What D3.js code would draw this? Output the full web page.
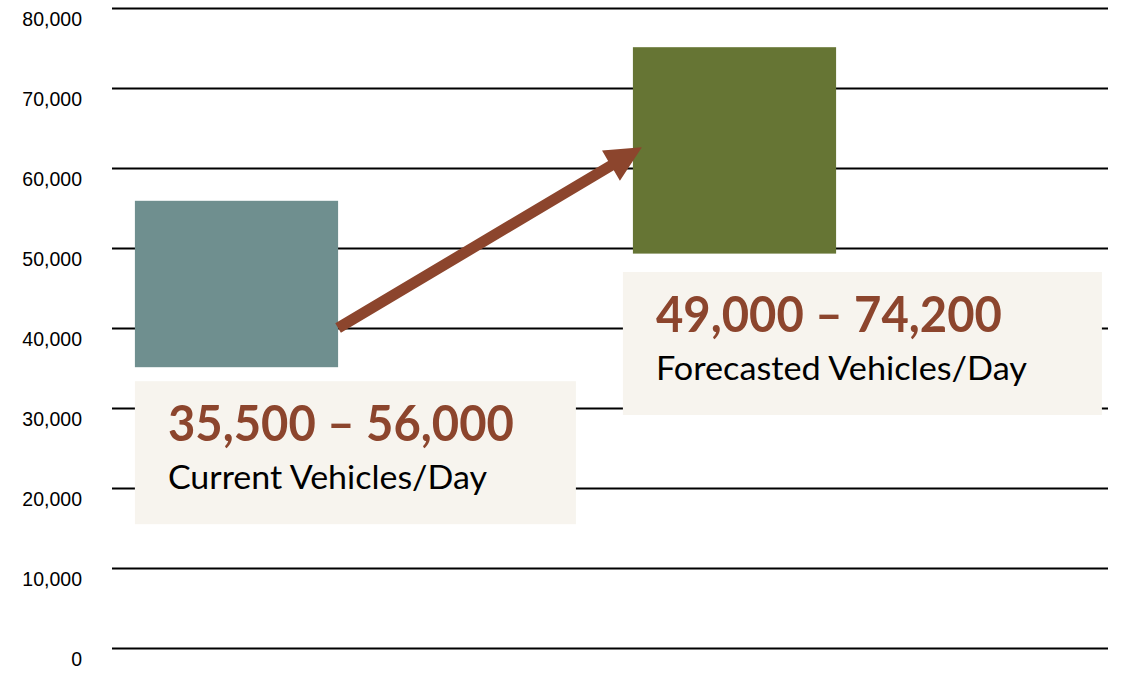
<!DOCTYPE html>
<html>
<head>
<meta charset="utf-8">
<script src="https://cdn.jsdelivr.net/npm/d3@7"></script>
<style>
  body { margin: 0; background: #fff; }
</style>
</head>
<body>
<script>
var categories = ["Current", "Forecasted"],
    lowValues = [35100, 49300],
    highValues = [55900, 75100],
    rangeLabels = ["35,500 \u2013 56,000", "49,000 \u2013 74,200"],
    subLabels = ["Current Vehicles/Day", "Forecasted Vehicles/Day"],
    yTicks = [0, 10000, 20000, 30000, 40000, 50000, 60000, 70000, 80000];

// arrow runs from the right edge of the first bar to just inside the second
var arrowFrom = 40000,
    arrowTo = 62600;

var width = 1123,
    height = 674,
    margin = {top: 8, right: 15, bottom: 26, left: 112};

var barColors = ["#6f8f8f", "#667534"],
    rust = "#8c452d",
    boxFill = "#f7f4ee";

var svg = d3.select("body").append("svg")
    .attr("width", width)
    .attr("height", height);

var x = d3.scaleBand()
    .domain(categories)
    .range([margin.left, width - margin.right])
    .padding(0);

var y = d3.scaleLinear()
    .domain([0, 80000])
    .range([height - margin.bottom, margin.top]);

var step = x.step(),
    barOffset = step * 0.046,
    barWidth = step * 0.408;

// gridlines + tick labels
var axis = svg.append("g")
    .attr("transform", "translate(" + margin.left + ",0)")
    .call(d3.axisLeft(y)
        .tickValues(yTicks)
        .tickSize(-(width - margin.left - margin.right))
        .tickFormat(d3.format(",")));

axis.select(".domain").remove();
axis.selectAll(".tick line")
    .attr("stroke", "#000")
    .attr("stroke-width", 2);
axis.selectAll(".tick text")
    .attr("x", -30)
    .attr("y", 17)
    .attr("dy", 0)
    .attr("fill", "#000")
    .style("font-family", "'Liberation Sans', Arial, sans-serif")
    .style("font-size", "19.5px");

// floating range bars
svg.selectAll("rect.bar")
    .data(categories)
    .enter().append("rect")
    .attr("class", "bar")
    .attr("x", function(d) { return x(d) + barOffset; })
    .attr("width", barWidth)
    .attr("y", function(d, i) { return y(highValues[i]); })
    .attr("height", function(d, i) { return y(lowValues[i]) - y(highValues[i]); })
    .attr("fill", function(d, i) { return barColors[i]; });

// label boxes
var boxes = [
    {x: x(categories[0]) + barOffset, y: y(lowValues[0]) + 14, w: 441, h: 143},
    {x: x(categories[1]) + barOffset - 10, y: 272, w: 479, h: 143}
];

var label = svg.selectAll("g.label")
    .data(boxes)
    .enter().append("g")
    .attr("class", "label")
    .attr("transform", function(d) { return "translate(" + d.x + "," + d.y + ")"; });

label.append("rect")
    .attr("width", function(d) { return d.w; })
    .attr("height", function(d) { return d.h; })
    .attr("fill", boxFill);

label.append("text")
    .attr("x", 33)
    .attr("y", 60)
    .attr("fill", rust)
    .attr("textLength", 346)
    .attr("lengthAdjust", "spacingAndGlyphs")
    .style("font-family", "Lato, 'Open Sans', sans-serif")
    .style("font-weight", "bold")
    .style("font-size", "49px")
    .text(function(d, i) { return rangeLabels[i]; });

label.append("text")
    .attr("x", 33)
    .attr("y", 108)
    .attr("fill", "#000")
    .attr("textLength", function(d, i) { return i ? 371 : 319; })
    .attr("lengthAdjust", "spacingAndGlyphs")
    .style("font-family", "Lato, 'Open Sans', sans-serif")
    .style("font-size", "32px")
    .text(function(d, i) { return subLabels[i]; });

// growth arrow
var x0 = x(categories[0]) + barOffset + barWidth,
    y0 = y(arrowFrom),
    x1 = x(categories[1]) + barOffset + 9,
    y1 = y(arrowTo),
    len = Math.hypot(x1 - x0, y1 - y0),
    angle = Math.atan2(y1 - y0, x1 - x0) * 180 / Math.PI,
    shaft = 11,
    headW = 35,
    headL = 36;

svg.append("path")
    .attr("transform", "translate(" + x0 + "," + y0 + ") rotate(" + angle + ")")
    .attr("fill", rust)
    .attr("d", "M0," + (-shaft / 2) +
        "L" + (len - headL) + "," + (-shaft / 2) +
        "L" + (len - headL) + "," + (-headW / 2) +
        "L" + len + ",0" +
        "L" + (len - headL) + "," + (headW / 2) +
        "L" + (len - headL) + "," + (shaft / 2) +
        "L0," + (shaft / 2) + "Z");
</script>
</body>
</html>
